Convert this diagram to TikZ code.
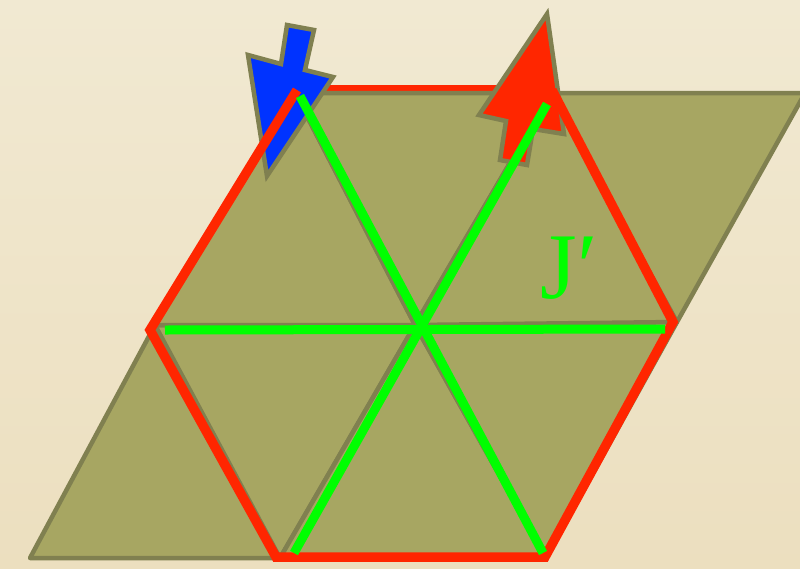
\documentclass[tikz,border=0pt]{standalone}
\usepackage{fontspec}
\setmainfont{Liberation Serif}
\definecolor{paperlight}{HTML}{F1E9D2}
\definecolor{paperdark}{HTML}{ECDFBF}
\definecolor{olive}{HTML}{A7A662}
\definecolor{oliveline}{HTML}{808050}
\definecolor{hexred}{HTML}{FF2600}
\definecolor{spoke}{HTML}{00FF00}
\definecolor{arrowblue}{HTML}{0033FF}

\begin{document}
\begin{tikzpicture}[x=1pt,y=-1pt,
    tri/.style={fill=olive,draw=oliveline,line width=4.5pt,line join=round},
    hexedge/.style={draw=hexred,line width=9.5pt,line join=miter},
    spokeline/.style={draw=spoke,line width=9pt},
    blockarrow/.style={draw=oliveline,line width=4.5pt,line join=miter}]
  \shade[top color=paperlight,bottom color=paperdark] (0,0) rectangle (800,568);
  \useasboundingbox (0,0) rectangle (800,568);
  \coordinate (bl) at (30,558);
  \coordinate (f) at (280,558);
  \coordinate (e) at (546,558);
  \coordinate (a) at (155,325);
  \coordinate (o) at (415,325);
  \coordinate (d) at (677,322);
  \coordinate (b) at (295,93);
  \coordinate (c) at (551,93);
  \coordinate (tr) at (805,93);
  \coordinate (hb) at (297,90);
  \coordinate (hc) at (552,90);
  \coordinate (hd) at (673,322);
  \coordinate (he) at (545,557);
  \coordinate (hf) at (276,557);
  \coordinate (ha) at (150,330);
  \draw[hexedge] (hb) -- (hc);
  \foreach \p/\q/\r in {bl/f/a,f/o/a,f/e/o,e/d/o,a/o/b,o/c/b,o/d/c,d/tr/c}
    \draw[tri] (\p) -- (\q) -- (\r) -- cycle;
  \draw[blockarrow,fill=arrowblue] (287,25) -- (314,30) -- (305,70) -- (333,77)
    -- (267,176) -- (248,55) -- (281,64) -- cycle;
  \draw[blockarrow,fill=hexred] (547,14) -- (564,134) -- (533,129) -- (527,165)
    -- (500,160) -- (506,121) -- (479,115) -- cycle;
  \draw[hexedge] (hc) -- (hd) -- (he) -- (hf) -- (ha) -- (hb);
  \coordinate (g1) at (300,96);
  \coordinate (g2) at (543,553);
  \coordinate (g3) at (547,104);
  \coordinate (g4) at (294,553);
  \coordinate (g5) at (165,330);
  \coordinate (g6) at (665,329);
  \draw[spokeline] (g1) -- (g2);
  \draw[spokeline] (g3) -- (g4);
  \draw[spokeline] (g5) -- (g6);
  \node[text=spoke,font=\fontsize{94}{94}\selectfont] (jlabel) at (569,268) {J′};
\end{tikzpicture}
\end{document}
